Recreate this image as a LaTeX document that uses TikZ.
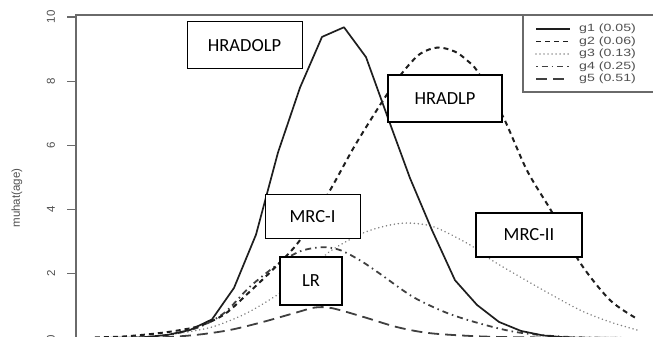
\documentclass[tikz,border=0pt]{standalone}
\usepackage{graphicx}
\usepackage{fontspec}
\setmainfont{Carlito}
\newfontfamily\rfont{Liberation Sans}
\definecolor{axisgray}{HTML}{6A6A6A}
\definecolor{textgray}{HTML}{505050}
\definecolor{curvedark}{HTML}{1E1E1E}
\begin{document}
\begin{tikzpicture}[x=1pt,y=1pt,
  lbox/.style={draw=black, fill=white, inner sep=0pt, font=\fontsize{18.5}{20}\selectfont},
  frameline/.style={draw=axisgray, line width=1.1pt},
  ticklbl/.style={font=\rfont\fontsize{11.5}{13}\selectfont, text=textgray, rotate=90, inner sep=0pt},
  legtxt/.style={font=\rfont\fontsize{10.5}{12}\selectfont, text=textgray, anchor=west, inner sep=0pt},
  gone/.style={draw=curvedark, line width=1.7pt, line join=round},
  gtwo/.style={draw=curvedark, line width=2pt, dash pattern=on 5pt off 4pt},
  gthree/.style={draw=gray, line width=1.7pt, line cap=round, dash pattern=on 0.01pt off 4pt},
  gfour/.style={draw=curvedark!85, line width=1.8pt, dash pattern=on 1.5pt off 4pt on 6pt off 4pt},
  gfive/.style={draw=curvedark!85, line width=1.8pt, dash pattern=on 11pt off 6pt},
]
\useasboundingbox (0,0) rectangle (653,337);

% frame and axis
\draw[frameline] (653,322) -- (76,322) -- (76,-2);
\draw[frameline] (523,322) -- (523,245) -- (653,245);

% ticks and labels
\begin{scope}[yshift=-1pt, y=32.1pt]
  \foreach \v in {0,2,4,6,8,10} {
    \draw[frameline] (67,\v) -- (76,\v);
    \node[ticklbl] (t\v) at (51,\v) {\v};
  }
\end{scope}
\node[font=\rfont\fontsize{11.5}{13}\selectfont, text=textgray, rotate=90, inner sep=0pt] (ylab) at (17,139) {muhat(age)};

% curves
\begin{scope}[yshift=-1pt, y=32.1pt]
\draw[gfive] plot[smooth, tension=0.5] coordinates {(95,0) (160,0.02) (197,0.1) (230,0.25) (263,0.5) (297,0.8) (315,0.95) (332,0.93) (363,0.66) (397,0.34) (430,0.15) (480,0.05) (530,0.02) (637,0)};
\draw[gfour] plot[smooth, tension=0.5] coordinates {(95,0) (140,0.02) (170,0.1) (200,0.35) (225,0.8) (250,1.6) (278,2.3) (300,2.7) (322,2.83) (340,2.74) (360,2.42) (380,2.0) (413,1.28) (447,0.78) (480,0.45) (513,0.2) (545,0.08) (580,0.02) (637,0)};
\draw[gthree] plot[smooth, tension=0.5] coordinates {(120,0) (150,0.05) (180,0.15) (213,0.35) (247,0.78) (280,1.4) (305,2.0) (330,2.7) (363,3.27) (390,3.52) (410,3.58) (435,3.45) (470,2.9) (493,2.4) (537,1.6) (580,0.87) (610,0.5) (637,0.25)};
\draw[gtwo] plot[smooth, tension=0.5] coordinates {(95,0.02) (120,0.04) (150,0.12) (175,0.22) (200,0.38) (225,0.75) (250,1.45) (275,2.2) (300,3.05) (330,4.6) (355,6.0) (383,7.4) (402,8.25) (420,8.85) (438,9.05) (455,8.92) (467,8.65) (478,8.28) (503,6.9) (527,5.22) (552,3.92) (580,2.35) (610,1.18) (637,0.6)};
\draw[gone] (95,0) -- (124,0) -- (146,0.03) -- (168,0.1) -- (190,0.25) -- (212,0.58) -- (234,1.56) -- (256,3.22) -- (278,5.78) -- (300,7.8) -- (322,9.38) -- (344,9.68) -- (366,8.75) -- (388,6.85) -- (410,4.98) -- (432,3.36) -- (455,1.8) -- (477,1.03) -- (499,0.5) -- (521,0.22) -- (543,0.08) -- (565,0.02) -- (587,0) -- (637,0);
\end{scope}

% legend
\foreach \i/\st/\txt/\yy in {1/gone/g1 (0.05)/308, 2/gtwo/g2 (0.06)/295.5, 3/gthree/g3 (0.13)/283, 4/gfour/g4 (0.25)/270.5, 5/gfive/g5 (0.51)/258} {
  \coordinate (ls\i) at (536,\yy);
  \coordinate (le\i) at (570,\yy);
  \draw[\st, line width=1.4pt] (ls\i) -- (le\i);
  \node[legtxt] (lt\i) at (579,\yy) {\scalebox{1.35}[1]{\txt}};
}

% label boxes
\node[lbox, line width=1pt, minimum width=115pt, minimum height=47pt] (hradolp) at (244.5,291.5) {HRADOLP};
\node[lbox, line width=1.6pt, minimum width=114pt, minimum height=47pt] (hradlp) at (445,238.5) {HRADLP\hspace{12pt}};
\node[lbox, line width=1pt, minimum width=95pt, minimum height=44pt] (mrci) at (312.5,120) {MRC-I\hspace{10pt}};
\node[lbox, line width=2pt, minimum width=62pt, minimum height=48pt] (lr) at (311,56) {LR};
\node[lbox, line width=1.6pt, minimum width=106pt, minimum height=44pt] (mrcii) at (529,102) {MRC-II\hspace{14pt}};
\end{tikzpicture}
\end{document}
